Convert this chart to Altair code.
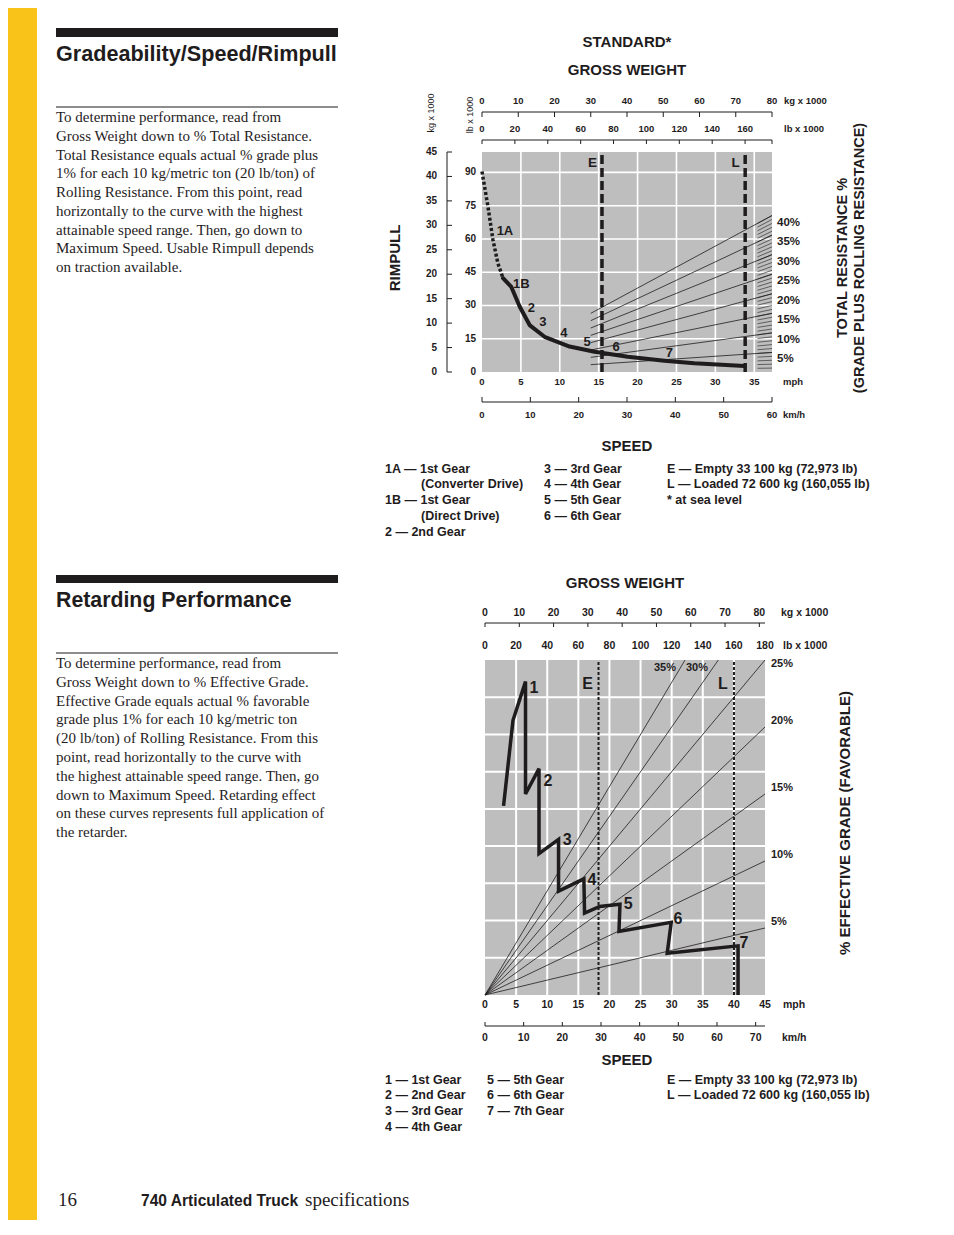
import altair as alt
import pandas as pd

# ===================== DATA =====================
# --- Gradeability / Speed / Rimpull : speed (mph) vs rimpull (kg x 1000) ---
rim_1a_mph = [0.0, 0.77, 1.41, 2.05, 2.70]
rim_1a_kg = [41.0, 33.8, 27.0, 22.2, 19.2]
rim_mph = [2.70, 3.77, 4.84, 6.12, 8.04, 11.26, 14.47, 18.74, 23.45, 27.30, 33.72]
rim_kg = [19.2, 17.4, 13.4, 9.6, 7.2, 5.2, 4.15, 3.13, 2.31, 1.77, 1.23]
rim_gear_names = ["1A", "1B", "2", "3", "4", "5", "6", "7"]
rim_gear_mph = [2.95, 5.05, 6.33, 7.83, 10.53, 13.52, 17.24, 24.10]
rim_gear_kg = [28.8, 18.1, 13.0, 10.3, 7.9, 6.2, 5.2, 3.8]

# total resistance lines: gross weight (kg x 1000) -> rimpull (kg x 1000)
res_names = ["40%", "35%", "30%", "25%", "20%", "15%", "10%", "5%"]
res_w_from = [30, 30, 30, 30, 30, 30, 30, 30]
res_r_from = [12.0, 10.5, 9.0, 7.5, 6.0, 4.5, 3.0, 1.5]
res_w_to = [80, 80, 80, 80, 80, 80, 80, 80]
res_r_to = [32.0, 28.0, 24.0, 20.0, 16.0, 12.0, 8.0, 4.0]
hatch_pct = [1, 2, 3, 4, 5, 6, 7, 8, 9, 10, 11, 12, 13, 14, 15, 16, 17, 18, 19, 20,
             21, 22, 23, 24, 25, 26, 27, 28, 29, 30, 31, 32, 33, 34, 35, 36, 37, 38, 39, 40]

weight_names = ["E", "L"]
weight_kg = [33.1, 72.6]
weight_lb = [72.973, 160.055]

t_kg_ticks = [0, 10, 20, 30, 40, 50, 60, 70, 80]
t_lb_ticks = [0, 20, 40, 60, 80, 100, 120, 140, 160]
t_rkg_ticks = [0, 5, 10, 15, 20, 25, 30, 35, 40, 45]
t_rlb_ticks = [0, 15, 30, 45, 60, 75, 90]
t_mph_ticks = [0, 5, 10, 15, 20, 25, 30, 35]
t_kmh_ticks = [0, 10, 20, 30, 40, 50, 60]

# --- Retarding performance : speed (mph) vs retarding force (lb x 1000) ---
ret_mph = [2.98, 4.50, 6.51, 6.51, 8.68, 8.68, 11.82, 11.82, 15.89, 16.00, 18.44,
           21.69, 21.53, 29.93, 29.28, 40.67, 40.67]
ret_force = [25.4, 36.9, 42.1, 27.0, 30.4, 19.0, 20.9, 13.95, 15.6, 11.0, 11.9,
             12.2, 8.55, 9.77, 5.6, 6.6, 0.0]
ret_gear_names = ["1", "2", "3", "4", "5", "6", "7"]
ret_gear_mph = [7.88, 10.1, 13.2, 17.2, 23.0, 31.0, 41.6]
ret_gear_force = [41.2, 28.7, 20.8, 15.4, 12.2, 10.2, 7.0]

grade_names = ["35%", "30%", "25%", "20%", "15%", "10%", "5%"]
grade_end_lb = [128.6, 150.0, 180.0, 180.0, 180.0, 180.0, 180.0]
grade_end_force = [45.0, 45.0, 45.0, 36.0, 27.0, 18.0, 9.0]
grade_top_names = ["35%", "30%"]
grade_top_lb = [115.7, 136.3]
grade_top_force = [43.9, 43.9]

b_kg_ticks = [0, 10, 20, 30, 40, 50, 60, 70, 80]
b_lb_ticks = [0, 20, 40, 60, 80, 100, 120, 140, 160, 180]
b_mph_ticks = [0, 5, 10, 15, 20, 25, 30, 35, 40, 45]
b_kmh_ticks = [0, 10, 20, 30, 40, 50, 60, 70]
b_force_grid = [5, 10, 15, 20, 25, 30, 35, 40]

# --- page texts ---
title_top = "Gradeability/Speed/Rimpull"
para_top = [
    "To determine performance, read from",
    "Gross Weight down to % Total Resistance.",
    "Total Resistance equals actual % grade plus",
    "1% for each 10 kg/metric ton (20 lb/ton) of",
    "Rolling Resistance. From this point, read",
    "horizontally to the curve with the highest",
    "attainable speed range. Then, go down to",
    "Maximum Speed. Usable Rimpull depends",
    "on traction available.",
]
title_bottom = "Retarding Performance"
para_bottom = [
    "To determine performance, read from",
    "Gross Weight down to % Effective Grade.",
    "Effective Grade equals actual % favorable",
    "grade plus 1% for each 10 kg/metric ton",
    "(20 lb/ton) of Rolling Resistance. From this",
    "point, read horizontally to the curve with",
    "the highest attainable speed range. Then, go",
    "down to Maximum Speed. Retarding effect",
    "on these curves represents full application of",
    "the retarder.",
]
leg_top_c1 = ["1A \u2014 1st Gear", "(Converter Drive)", "1B \u2014 1st Gear", "(Direct Drive)", "2 \u2014 2nd Gear"]
leg_top_c2 = ["3 \u2014 3rd Gear", "4 \u2014 4th Gear", "5 \u2014 5th Gear", "6 \u2014 6th Gear"]
leg_top_c3 = ["E \u2014 Empty 33 100 kg (72,973 lb)", "L \u2014 Loaded 72 600 kg (160,055 lb)", "* at sea level"]
leg_bot_c1 = ["1 \u2014 1st Gear", "2 \u2014 2nd Gear", "3 \u2014 3rd Gear", "4 \u2014 4th Gear"]
leg_bot_c2 = ["5 \u2014 5th Gear", "6 \u2014 6th Gear", "7 \u2014 7th Gear"]
leg_bot_c3 = ["E \u2014 Empty 33 100 kg (72,973 lb)", "L \u2014 Loaded 72 600 kg (160,055 lb)"]

# ===================== STYLE / LAYOUT =====================
SANS = "Liberation Sans, Arial, Helvetica, sans-serif"
SERIF = "Liberation Serif, Times New Roman, Times, serif"
INK = "#1f1c1d"
PLOT_GRAY = "#bebebe"
CAT_YELLOW = "#f9c31a"
M = 8  # page margin; everything below is given in page pixels


def sc(dom, rng):
    return alt.Scale(domain=dom, range=[r - M for r in rng], nice=False, zero=False)


def X(f, s):
    return alt.X(f, type="quantitative", scale=s, axis=None)


def Y(f, s):
    return alt.Y(f, type="quantitative", scale=s, axis=None)


def df(**kw):
    return pd.DataFrame(kw)


# scales (gradeability chart)
T_MPH = sc([0, 37.28], [482, 772])
T_KMH = sc([0, 60], [482, 772])
T_WKG = sc([0, 80], [482, 772])
T_WLB = sc([0, 176.37], [482, 772])
T_RKG = sc([0, 45], [372, 152])
T_RLB = sc([0, 99.21], [372, 152])
# scales (retarding chart)
B_MPH = sc([0, 45], [485, 765])
B_KMH = sc([0, 72.42], [485, 765])
B_WLB = sc([0, 180], [485, 765])
B_WKG = sc([0, 81.65], [485, 765])
B_F = sc([0, 45], [995, 660])

layers = []
add = layers.append


def label(s, x, y, size=12.5, weight="bold", align="left", font=SANS, angle=0, baseline="middle"):
    add(alt.Chart(df(t=[s])).mark_text(align=align, baseline=baseline, font=font, fontSize=size,
                                         fontWeight=weight, angle=angle, color=INK)
        .encode(x=alt.value(x - M), y=alt.value(y - M), text="t:N"))


def box(x0, x1, y0, y1, color):
    add(alt.Chart(df(a=[0])).mark_rect(color=color)
        .encode(x=alt.value(x0 - M), x2=alt.value(x1 - M), y=alt.value(y0 - M), y2=alt.value(y1 - M)))


def paragraph(lines, x, y0, lh, size=15):
    n = len(lines)
    add(alt.Chart(df(t=lines, i=list(range(n)))).mark_text(align="left", baseline="alphabetic", font=SERIF,
                                                            fontSize=size, color=INK)
        .encode(x=alt.value(x - M), y=Y("i", sc([0, n - 1], [y0, y0 + (n - 1) * lh])), text="t:N"))


def hline_axis(ticks, scale, line_y, tick_len, lo, hi, extra=()):
    add(alt.Chart(df(a=[lo], b=[hi])).mark_rule(color=INK, strokeWidth=1)
        .encode(x=X("a", scale), x2="b", y=alt.value(line_y - M)))
    add(alt.Chart(df(v=list(ticks) + list(extra))).mark_rule(color=INK, strokeWidth=1)
        .encode(x=X("v", scale), y=alt.value(line_y - M), y2=alt.value(line_y + tick_len - M)))


def hlabels(ticks, scale, y, size):
    add(alt.Chart(df(v=ticks)).mark_text(font=SANS, fontSize=size, fontWeight="bold", color=INK,
                                         baseline="middle")
        .encode(x=X("v", scale), y=alt.value(y - M), text=alt.Text("v:Q", format="d")))


def vlabels(ticks, scale, x, size):
    add(alt.Chart(df(v=ticks)).mark_text(font=SANS, fontSize=size, fontWeight="bold", color=INK,
                                         baseline="middle", align="right")
        .encode(y=Y("v", scale), x=alt.value(x - M), text=alt.Text("v:Q", format="d")))


# ===================== PAGE FURNITURE =====================
box(0, 37, 0, 1235, CAT_YELLOW)
box(56, 338, 28, 37, INK)
box(56, 338, 575, 583, INK)
box(56, 338, 106.5, 107.5, INK)
box(56, 338, 652.5, 653.5, INK)
label(title_top, 56, 61, size=21.6, baseline="alphabetic")
label(title_bottom, 56, 607, size=21.3, baseline="alphabetic")
paragraph(para_top, 56, 122, 18.75)
paragraph(para_bottom, 56, 668, 18.8)
label("16", 58, 1206, size=19, weight="normal", font=SERIF, baseline="alphabetic")
label("740 Articulated Truck", 141, 1206, size=15.6, baseline="alphabetic")
label("specifications", 305, 1206, size=19, weight="normal", font=SERIF, baseline="alphabetic")

# ===================== GRADEABILITY CHART =====================
label("STANDARD*", 627, 42, size=15, align="center")
label("GROSS WEIGHT", 627, 70, size=15, align="center")
label("SPEED", 627, 446, size=15, align="center")
label("RIMPULL", 395, 258, size=15, align="center", angle=270)
label("TOTAL RESISTANCE %", 843, 258, size=14.5, align="center", angle=270)
label("(GRADE PLUS ROLLING RESISTANCE)", 860, 258, size=14.5, align="center", angle=270)

# plot background and grid
add(alt.Chart(df(x0=[0], x1=[37.28], y0=[0], y1=[45])).mark_rect(color=PLOT_GRAY)
    .encode(x=X("x0", T_MPH), x2="x1", y=Y("y0", T_RKG), y2="y1"))
add(alt.Chart(df(v=t_mph_ticks[1:], lo=0, hi=45)).mark_rule(color="white", strokeWidth=1.6)
    .encode(x=X("v", T_MPH), y=Y("lo", T_RKG), y2="hi"))
add(alt.Chart(df(v=t_rlb_ticks[1:], lo=0, hi=37.28)).mark_rule(color="white", strokeWidth=1.6)
    .encode(y=Y("v", T_RLB), x=X("lo", T_MPH), x2="hi"))

# resistance lines + hatching
add(alt.Chart(df(w0=res_w_from, r0=res_r_from, w1=res_w_to, r1=res_r_to)).mark_rule(color=INK, strokeWidth=0.8)
    .encode(x=X("w0", T_WKG), y=Y("r0", T_RKG), x2="w1", y2="r1"))
add(alt.Chart(df(p=hatch_pct)).transform_calculate(w0="76", w1="80", r0="76*datum.p/100", r1="80*datum.p/100")
    .mark_rule(color=INK, strokeWidth=0.6)
    .encode(x=X("w0", T_WKG), y=Y("r0", T_RKG), x2="w1", y2="r1"))
add(alt.Chart(df(t=res_names, w=res_w_to, r=res_r_to)).mark_text(font=SANS, fontSize=11.5, fontWeight="bold",
                                                                  color=INK, align="left", dx=5, dy=7)
    .encode(x=X("w", T_WKG), y=Y("r", T_RKG), text="t:N"))

# E / L weight lines
add(alt.Chart(df(w=weight_kg, lo=0, hi=45)).mark_rule(color=INK, strokeWidth=3.5, strokeDash=[9, 4])
    .encode(x=X("w", T_WKG), y=Y("lo", T_RKG), y2="hi"))
add(alt.Chart(df(t=weight_names, w=weight_kg, r=[42.7, 42.7])).mark_text(font=SANS, fontSize=13.5, fontWeight="bold",
                                                                         color=INK, dx=-9.5)
    .encode(x=X("w", T_WKG), y=Y("r", T_RKG), text="t:N"))

# rimpull curve
add(alt.Chart(df(s=rim_1a_mph, r=rim_1a_kg, i=list(range(len(rim_1a_mph)))))
    .mark_line(color=INK, strokeWidth=3.5, strokeDash=[3, 2.2])
    .encode(x=X("s", T_MPH), y=Y("r", T_RKG), order="i:Q"))
add(alt.Chart(df(s=rim_mph, r=rim_kg, i=list(range(len(rim_mph)))))
    .mark_line(color=INK, strokeWidth=4, strokeCap="round", strokeJoin="round")
    .encode(x=X("s", T_MPH), y=Y("r", T_RKG), order="i:Q"))
add(alt.Chart(df(t=rim_gear_names, s=rim_gear_mph, r=rim_gear_kg)).mark_text(font=SANS, fontSize=13,
                                                                             fontWeight="bold", color=INK)
    .encode(x=X("s", T_MPH), y=Y("r", T_RKG), text="t:N"))

# axes of the gradeability chart
hline_axis(t_kg_ticks, T_WKG, 112, 5, 0, 80)
hlabels(t_kg_ticks, T_WKG, 101, 9.5)
hline_axis(t_lb_ticks, T_WLB, 140, 4, 0, 176.37, extra=[176.37])
hlabels(t_lb_ticks, T_WLB, 129, 9.5)
label("kg x 1000", 784, 101, size=9.5)
label("lb x 1000", 784, 129, size=9.5)
add(alt.Chart(df(a=[0], b=[45])).mark_rule(color=INK, strokeWidth=1)
    .encode(y=Y("a", T_RKG), y2="b", x=alt.value(447 - M)))
add(alt.Chart(df(v=t_rkg_ticks)).mark_rule(color=INK, strokeWidth=1)
    .encode(y=Y("v", T_RKG), x=alt.value(447 - M), x2=alt.value(452 - M)))
vlabels(t_rkg_ticks, T_RKG, 437, 10)
vlabels(t_rlb_ticks, T_RLB, 476, 10)
label("kg x 1000", 431, 113, size=9, weight="normal", align="center", angle=270)
label("lb x 1000", 470, 115, size=9, weight="normal", align="center", angle=270)
hlabels(t_mph_ticks, T_MPH, 382, 9.5)
label("mph", 783, 382, size=9.5)
hline_axis(t_kmh_ticks, T_KMH, 402, -5, 0, 60)
hlabels(t_kmh_ticks, T_KMH, 415, 9.5)
label("km/h", 783, 415, size=9.5)

# legend
for i, s in enumerate(leg_top_c1):
    label(s, 421 if s.startswith("(") else 385, [469, 484, 500, 516, 532][i])
for i, s in enumerate(leg_top_c2):
    label(s, 544, [469, 484, 500, 516][i])
for i, s in enumerate(leg_top_c3):
    label(s, 667, [469, 484, 500][i])

# ===================== RETARDING CHART =====================
label("GROSS WEIGHT", 625, 583, size=15, align="center")
label("SPEED", 627, 1060, size=15, align="center")
label("% EFFECTIVE GRADE  (FAVORABLE)", 845, 823, size=15, align="center", angle=270)

add(alt.Chart(df(x0=[0], x1=[45], y0=[0], y1=[45])).mark_rect(color=PLOT_GRAY)
    .encode(x=X("x0", B_MPH), x2="x1", y=Y("y0", B_F), y2="y1"))
add(alt.Chart(df(v=b_mph_ticks[1:-1], lo=0, hi=45)).mark_rule(color="white", strokeWidth=2)
    .encode(x=X("v", B_MPH), y=Y("lo", B_F), y2="hi"))
add(alt.Chart(df(v=b_force_grid, lo=0, hi=45)).mark_rule(color="white", strokeWidth=2)
    .encode(y=Y("v", B_F), x=X("lo", B_MPH), x2="hi"))

# effective grade lines
add(alt.Chart(df(w0=0, f0=0, w1=grade_end_lb, f1=grade_end_force)).mark_rule(color=INK, strokeWidth=0.8)
    .encode(x=X("w0", B_WLB), y=Y("f0", B_F), x2="w1", y2="f1"))
add(alt.Chart(df(t=grade_names[3:], w=grade_end_lb[3:], f=grade_end_force[3:]))
    .mark_text(font=SANS, fontSize=11, fontWeight="bold", color=INK, align="left", dx=6, dy=-6)
    .encode(x=X("w", B_WLB), y=Y("f", B_F), text="t:N"))
add(alt.Chart(df(t=grade_names[2:3], w=grade_end_lb[2:3], f=grade_end_force[2:3]))
    .mark_text(font=SANS, fontSize=11, fontWeight="bold", color=INK, align="left", dx=6, dy=4)
    .encode(x=X("w", B_WLB), y=Y("f", B_F), text="t:N"))
add(alt.Chart(df(t=grade_top_names, w=grade_top_lb, f=grade_top_force))
    .mark_text(font=SANS, fontSize=11, fontWeight="bold", color=INK)
    .encode(x=X("w", B_WLB), y=Y("f", B_F), text="t:N"))

# E / L weight lines
add(alt.Chart(df(w=weight_lb, lo=0, hi=45)).mark_rule(color=INK, strokeWidth=2, strokeDash=[3, 2])
    .encode(x=X("w", B_WLB), y=Y("lo", B_F), y2="hi"))
add(alt.Chart(df(t=weight_names, w=weight_lb, f=[41.8, 41.8])).mark_text(font=SANS, fontSize=16, fontWeight="bold",
                                                                        color=INK, dx=-11)
    .encode(x=X("w", B_WLB), y=Y("f", B_F), text="t:N"))

# retarding curve
add(alt.Chart(df(s=ret_mph, f=ret_force, i=list(range(len(ret_mph)))))
    .mark_line(color=INK, strokeWidth=3.5, strokeJoin="miter")
    .encode(x=X("s", B_MPH), y=Y("f", B_F), order="i:Q"))
add(alt.Chart(df(t=ret_gear_names, s=ret_gear_mph, f=ret_gear_force)).mark_text(font=SANS, fontSize=16,
                                                                                fontWeight="bold", color=INK)
    .encode(x=X("s", B_MPH), y=Y("f", B_F), text="t:N"))

# axes of the retarding chart
hline_axis(b_kg_ticks, B_WKG, 623, 4, 0, 81.65)
hlabels(b_kg_ticks, B_WKG, 613, 10.5)
hlabels(b_lb_ticks, B_WLB, 646, 10.5)
label("kg x 1000", 781, 613, size=10.5)
label("lb x 1000", 783, 646, size=10.5)
hlabels(b_mph_ticks, B_MPH, 1005, 10.5)
label("mph", 783, 1005, size=10.5)
hline_axis(b_kmh_ticks, B_KMH, 1026, -4, 0, 72.42)
hlabels(b_kmh_ticks, B_KMH, 1038, 10.5)
label("km/h", 782, 1038, size=10.5)

for i, s in enumerate(leg_bot_c1):
    label(s, 385, [1080, 1095, 1111, 1127][i])
for i, s in enumerate(leg_bot_c2):
    label(s, 487, [1080, 1095, 1111][i])
for i, s in enumerate(leg_bot_c3):
    label(s, 667, [1080, 1095][i])

chart = (
    alt.layer(*layers)
    .resolve_scale(x="independent", y="independent")
    .properties(width=930, height=1212, autosize=alt.AutoSizeParams(type="none"), padding=0)
    .configure_view(stroke=None)
)
chart.save("out.html", embed_options={"renderer": "svg", "actions": False})
